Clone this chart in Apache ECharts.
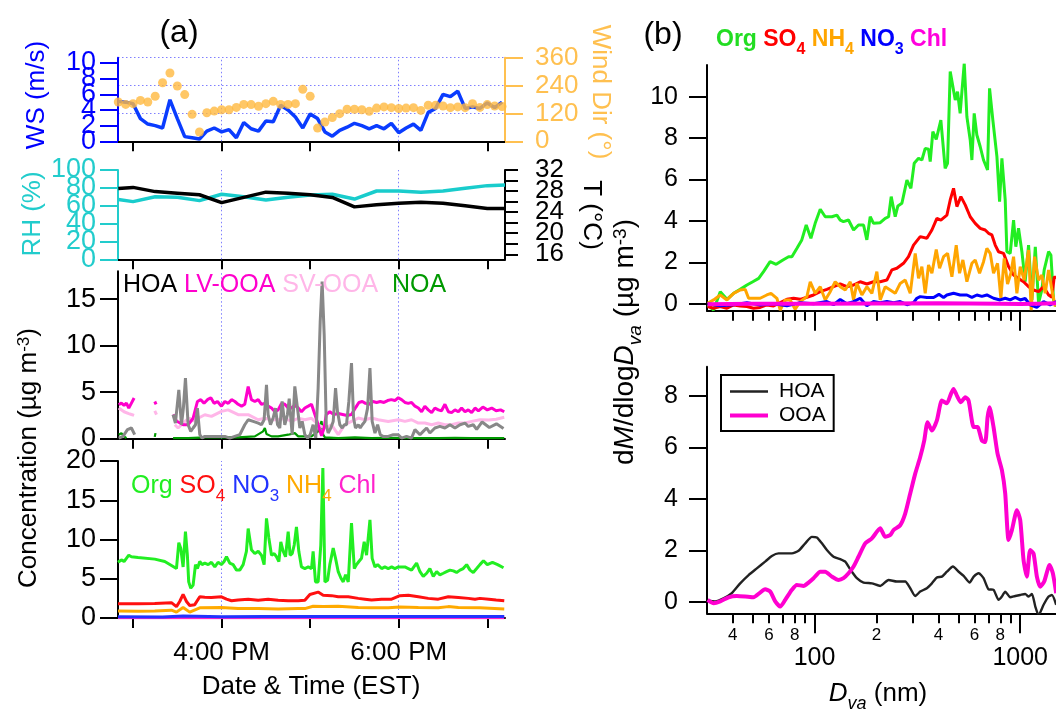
<!DOCTYPE html>
<html>
<head>
<meta charset="utf-8">
<script src="https://cdn.jsdelivr.net/npm/echarts@6/dist/echarts.min.js"></script>
<style>
  html, body { margin: 0; padding: 0; background: #ffffff; }
  #chart { width: 1056px; height: 711px; }
</style>
</head>
<body>
<div id="chart"></div>
<script>
// ---------- time axis: minutes after 3:00 PM (EST) ----------
const timeTicks = [0, 60, 120, 180, 240];
const timeLabelTicks = [60, 180];
const timeLabels = ['4:00 PM', '6:00 PM'];

// ---------- meteorology, 5-min ----------
const metTime = [-10, -5, 0, 5, 10, 15, 20, 25, 30, 35, 40, 45, 50, 55, 60, 65, 70, 75, 80, 85,
  90, 95, 100, 105, 110, 115, 120, 125, 130, 135, 140, 145, 150, 155, 160, 165, 170, 175, 180, 185,
  190, 195, 200, 205, 210, 215, 220, 225, 230, 235, 240, 245, 250];
const windSpeed = [5.1, 5.0, 4.8, 2.9, 2.2, 2.0, 1.7, 5.3, 2.9, 0.6, 0.45, 0.3, 1.3, 1.7, 1.2, 1.5, 0.45, 2.4, 1.6, 1.3,
  2.6, 2.5, 4.6, 4.0, 3.1, 1.7, 3.5, 2.9, 1.2, 0.65, 1.4, 1.8, 2.3, 2.0, 1.6, 2.0, 1.6, 2.3, 1.1, 1.7,
  2.2, 1.4, 3.7, 4.2, 6.0, 5.7, 6.4, 4.2, 4.4, 4.2, 4.9, 4.3, 5.0];
const windDir = [169, 159, 162, 176, 169, 194, 252, 294, 238, 201, 116, 40, 123, 130, 136, 136, 146, 159, 158, 151,
  162, 172, 159, 159, 162, 224, 194, 57, 83, 102, 119, 138, 138, 136, 129, 143, 148, 145, 141, 143,
  145, 133, 155, 155, 152, 145, 148, 145, 162, 146, 158, 152, 150];
const wsTicks = [0, 2, 4, 6, 8, 10];
const wsLabelsA = [0, 4, 8];
const wsLabelsB = [2, 6, 10];
const dirTicks = [0, 120, 240, 360];

// ---------- RH and temperature, 15-min ----------
const rhTime = [-10, 0, 15, 30, 45, 60, 75, 90, 105, 120, 135, 150, 165, 180, 195, 210, 225, 240, 252];
const relHum = [67, 64.6, 70, 69.4, 65.7, 72.8, 70, 66.4, 69.4, 72, 72.8, 67.5, 76.5, 76.5, 75, 76.5, 79.5, 82.5, 83.2];
const airTemp = [28.5, 28.7, 27.9, 27.6, 27.3, 25.8, 26.8, 27.8, 27.6, 27.3, 26.8, 25.0, 25.4, 25.7, 25.9, 25.7, 25.2, 24.7, 24.7];
const rhTicks = [0, 20, 40, 60, 80, 100];
const rhLabelsA = [0, 40, 80];
const rhLabelsB = [20, 60, 100];
const tempTicks = [16, 18, 20, 22, 24, 26, 28, 30, 32];
const tempLabelsA = [16, 24, 32];
const tempLabelsB = [20, 28];

// ---------- PMF factors (µg m-3) ----------
const hoaTime = [-9.7, -6.8, -3.8, -1.1, 1.1, 8, 27.1, 28.7, 31.0, 32.8,
  34.1, 35.5, 37.3, 39.1, 40.7, 42.3, 43.6, 45.2, 46.8, 48.6,
  53.1, 58.8, 62.2, 65.5, 68.9, 72.3, 75.7, 78.0, 81.4, 84.8,
  87.0, 88.8, 90.4, 91.5, 93.1, 94.9, 96.5, 97.9, 99.4, 101.0,
  102.8, 104.6, 105.8, 107.8, 109.6, 111.4, 113.0, 114.6, 116.4, 118.2,
  120.0, 122.0, 123.8, 125.4, 126.8, 128.1, 129.5, 130.9, 132.2, 134.0,
  135.6, 137.2, 138.5, 140.1, 141.7, 143.1, 144.6, 146.2, 148.0, 149.4,
  150.7, 152.6, 153.9, 155.3, 157.1, 158.9, 160.5, 162.0, 163.9, 165.7,
  167.5, 169.3, 172.9, 176.3, 179.7, 181.9, 185.3, 188.7, 191.0, 194.4,
  196.6, 198.9, 201.1, 204.5, 207.9, 211.3, 214.7, 218.1, 221.5, 224.9,
  227.1, 230.5, 232.8, 236.5, 241.4, 246.2, 251.0];
const hoaConc = [0.07, 0.25, 0.97, 1.15, 0.43, null, 2.58, 1.68, 5.26, 1.5,
  3.29, 6.52, 1.5, 0.79, 1.15, 1.5, 3.29, 0.43, 0.07, 0.25,
  0.25, 0.25, 0.25, 0.07, 0.25, 0.43, 1.5, 2.04, 1.86, 1.68,
  1.5, 2.04, 5.8, 2.58, 1.5, 2.22, 3.29, 1.5, 1.15, 4.01,
  1.5, 2.6, 4.3, 0.43, 5.62, 3.29, 1.15, 1.86, 0.43, 0.07,
  0.43, 1.5, 0.07, 5.44, 12.6, 16.9, 11.17, 1.5, 0.61, 1.15,
  1.86, 5.44, 2.94, 1.5, 1.15, 1.5, 1.5, 4.01, 8.13, 2.22,
  1.15, 1.5, 1.15, 1.5, 1.86, 3.29, 7.59, 1.86, 0.61, 1.5,
  0.43, 0.25, 0.25, 0.43, 0.43, 0.07, 0.25, 0.07, 0.97, 0.43,
  0.79, 1.15, 0.61, 1.15, 1.32, 1.15, 1.5, 1.15, 1.5, 1.68,
  1.32, 1.5, 1.0, 1.8, 1.2, 1.6, 1.1];
const lvTime = [-9.7, -7.9, -6.1, -4.5, -2.9, -1.1, 0.7, 5, 14.7, 15.6,
  20, 27.1, 29.4, 33.9, 37.3, 40.7, 43.6, 45.9, 48.1, 50.4,
  52.7, 54.9, 57.2, 59.9, 62.2, 64.5, 66.7, 69.0, 71.2, 73.5,
  75.7, 78.0, 80.2, 82.5, 84.8, 87.0, 89.3, 91.5, 93.8, 96.1,
  98.3, 100.6, 102.8, 105.1, 107.4, 109.6, 111.9, 114.1, 116.4, 118.7,
  120.9, 123.2, 125.4, 127.7, 129.5, 130.9, 133.3, 136.0, 139.0, 142.0,
  145.0, 148.0, 151.0, 153.0, 155.3, 157.5, 160.0, 162.5, 165.0, 167.5,
  170.0, 172.5, 175.0, 177.4, 179.7, 181.9, 184.2, 186.5, 188.7, 191.0,
  193.3, 195.5, 197.7, 200.0, 202.3, 204.5, 206.8, 209.0, 211.3, 213.6,
  215.8, 218.1, 220.4, 222.6, 224.9, 227.1, 229.4, 231.7, 234.0, 237.0,
  240.0, 243.0, 246.0, 249.0, 251.5];
const lvConc = [3.65, 3.83, 3.58, 3.83, 3.29, 3.83, 4.37, null, 4.0, 3.7,
  null, 2.6, 1.9, 1.5, 1.5, 2.2, 4.0, 4.2, 3.8, 4.2,
  4.4, 3.8, 4.0, 3.5, 4.0, 3.8, 4.2, 4.0, 3.7, 3.5,
  3.7, 5.6, 4.2, 4.0, 4.2, 3.7, 3.8, 3.5, 3.3, 2.9,
  3.1, 3.8, 3.7, 3.3, 3.3, 3.6, 3.3, 2.9, 3.3, 3.5,
  3.7, 2.6, 1.5, 0.3, 1.2, 2.6, 2.9, 2.6, 2.7, 2.6,
  2.5, 2.6, 3.4, 3.9, 4.0, 3.8, 3.7, 4.0, 3.9, 4.0,
  3.9, 4.1, 4.2, 4.1, 4.4, 4.2, 3.9, 3.8, 3.9, 3.5,
  3.3, 2.9, 3.5, 3.1, 2.8, 3.3, 3.1, 3.0, 3.7, 2.9,
  2.8, 3.1, 2.9, 3.3, 2.9, 3.1, 2.8, 3.3, 3.0, 3.4,
  3.1, 3.3, 3.0, 3.1, 2.9];
const svTime = [-9.7, -6.1, -2.9, -1.1, 0.7, 5, 14.7, 15.9, 20, 28.3,
  30.5, 32.8, 36.2, 38.4, 40.7, 44.1, 48.6, 53.1, 59.9, 64.4,
  71.2, 78.0, 84.8, 89.3, 93.8, 98.3, 102.8, 107.4, 111.9, 116.4,
  120.9, 125.4, 129.9, 134.5, 139.0, 143.5, 148.0, 152.6, 157.1, 161.6,
  166.1, 172.9, 179.7, 184.2, 188.7, 193.3, 197.7, 202.3, 206.8, 211.3,
  215.8, 220.4, 224.9, 229.4, 235.0, 241.0, 246.0, 251.5];
const svConc = [3.3, 2.9, 2.7, 2.6, 2.5, null, 3.0, 2.6, null, 1.5,
  1.15, 1.5, 2.0, 2.2, 1.9, 2.2, 2.58, 2.4, 2.94, 3.1,
  2.58, 2.58, 2.04, 2.2, 2.04, 2.04, 2.2, 1.86, 2.2, 2.04,
  2.2, 1.5, 1.15, 1.5, 0.43, 1.5, 1.86, 2.22, 2.04, 2.22,
  2.04, 1.86, 2.04, 1.86, 2.04, 1.68, 1.68, 1.5, 1.68, 1.5,
  1.5, 1.68, 1.68, 1.86, 2.04, 2.0, 2.1, 2.3];
const noaTime = [-9.7, -7.9, -6.1, -4.5, 5, 14.7, 15.2, 20, 27.1, 37.3,
  48.6, 59.9, 71.2, 82.5, 88.1, 89.3, 90.4, 93.8, 98.3, 105.1,
  109.6, 111.9, 120.9, 125.4, 127.7, 128.8, 130.0, 139.0, 150.3, 161.6,
  172.9, 184.2, 195.5, 206.8, 218.1, 229.4, 240.0, 251.5];
const noaConc = [0.43, 0.6, 0.25, 0.07, null, 0.2, 0.6, null, 0.07, 0.07,
  0.15, 0.15, 0.15, 0.25, 0.79, 1.15, 0.5, 0.25, 0.25, 0.43,
  0.6, 0.25, 0.25, 0.79, 1.9, 0.43, 0.15, 0.07, 0.15, 0.07,
  0.1, 0.07, 0.07, 0.07, 0.1, 0.07, 0.07, 0.07];
const pmfTicks = [0, 5, 10, 15];

// ---------- bulk species (µg m-3) ----------
const orgTime = [-10.2, -7.9, -6.1, -4.5, -2.9, -1.1, 3.4, 14.7, 21.5, 29.4,
  31.0, 32.3, 33.9, 35.5, 36.8, 37.7, 39.1, 40.7, 42.3, 43.6,
  45.2, 46.8, 48.6, 50.9, 53.1, 55.4, 57.6, 59.9, 61.7, 63.3,
  65.5, 67.8, 70.1, 72.3, 74.6, 76.8, 78.0, 80.2, 82.5, 84.8,
  87.0, 88.8, 90.4, 92.0, 93.8, 95.6, 97.2, 98.8, 100.1, 101.7,
  103.3, 105.1, 106.4, 107.8, 109.2, 110.7, 112.3, 114.1, 116.4, 118.7,
  120.9, 122.0, 123.6, 125.4, 127.2, 128.6, 130.0, 131.8, 133.3, 135.6,
  137.2, 139.0, 140.8, 142.4, 144.0, 145.8, 148.0, 149.9, 151.4, 153.0,
  154.8, 156.6, 158.2, 160.5, 162.0, 163.9, 165.7, 168.4, 170.6, 172.9,
  175.2, 177.4, 179.7, 184.2, 186.5, 188.7, 192.1, 194.4, 196.6, 198.9,
  201.1, 203.4, 205.7, 207.9, 210.2, 212.4, 214.7, 217.0, 219.2, 221.5,
  223.7, 226.0, 228.3, 230.5, 232.8, 235.0, 237.4, 240.0, 243.5, 247.0,
  251.0];
const orgConc = [7.1, 7.4, 7.2, 7.6, 8.0, 7.8, 7.7, 7.5, 7.2, 6.3,
  9.6, 8.9, 6.5, 11.0, 8.0, 4.6, 3.8, 4.2, 6.8, 6.3,
  7.2, 6.8, 7.0, 6.8, 7.1, 6.5, 7.1, 6.8, 7.2, 7.8,
  7.0, 6.8, 6.1, 6.1, 6.8, 8.5, 11.4, 8.7, 8.2, 8.5,
  8.0, 6.8, 12.7, 10.2, 8.0, 8.2, 7.8, 7.2, 9.7, 8.5,
  7.8, 11.0, 8.0, 8.2, 9.3, 11.6, 8.5, 6.5, 6.3, 6.5,
  6.3, 8.5, 4.6, 4.6, 9.3, 19.1, 4.6, 4.8, 6.8, 8.9,
  7.6, 5.9, 5.1, 4.6, 5.5, 4.6, 12.1, 6.3, 6.8, 7.2,
  7.6, 9.7, 8.0, 12.5, 7.6, 6.5, 6.8, 6.3, 6.5, 6.3,
  6.5, 6.3, 6.5, 6.5, 6.3, 6.1, 7.0, 5.9, 5.3, 5.7,
  6.3, 5.3, 5.9, 5.5, 5.7, 5.9, 6.1, 6.0, 5.8, 6.1,
  6.3, 6.8, 6.1, 5.8, 6.3, 6.8, 7.3, 6.8, 7.1, 6.8,
  6.4];
const so4Time = [-10.2, 3.4, 14.7, 26.0, 29.4, 31.6, 33.9, 36.2, 38.4, 41.8,
  45.2, 48.6, 53.1, 59.9, 63.3, 66.7, 71.2, 78.0, 84.8, 91.5,
  98.3, 105.1, 111.9, 116.4, 119.8, 125.4, 128.8, 134.5, 139.0, 145.8,
  152.6, 157.1, 161.6, 168.4, 175.2, 180.8, 186.5, 193.3, 200.0, 206.8,
  213.6, 220.4, 227.2, 231.7, 235.0, 241.0, 246.0, 251.5];
const so4Conc = [1.8, 1.8, 1.85, 1.95, 1.45, 2.1, 3.0, 2.1, 1.6, 1.7,
  2.7, 2.65, 2.6, 2.7, 2.4, 2.2, 2.3, 2.4, 2.25, 2.4,
  2.25, 2.2, 2.2, 2.25, 3.0, 3.3, 2.9, 2.85, 2.7, 2.7,
  2.5, 2.4, 2.3, 2.4, 2.4, 2.85, 2.9, 2.7, 2.5, 2.4,
  2.7, 2.6, 2.5, 2.4, 2.5, 2.4, 2.3, 2.2];
const nh4Time = [-10.2, 3.4, 14.7, 26.0, 29.4, 33.9, 38.4, 45.2, 59.9, 71.2,
  84.8, 98.3, 111.9, 116.4, 122.0, 128.8, 139.0, 152.6, 161.6, 172.9,
  180.8, 193.3, 206.8, 213.6, 220.4, 235.0, 251.5];
const nh4Conc = [0.9, 0.85, 0.9, 1.0, 0.75, 1.35, 0.75, 1.3, 1.35, 1.2,
  1.2, 1.15, 1.2, 1.2, 1.5, 1.45, 1.5, 1.35, 1.3, 1.3,
  1.4, 1.35, 1.3, 1.45, 1.35, 1.3, 1.15];
const no3Time = [-10.2, 20, 33.9, 60, 90, 120, 150, 180, 210, 251.5];
const no3Conc = [0.15, 0.14, 0.25, 0.17, 0.18, 0.2, 0.19, 0.2, 0.18, 0.18];
const chlTime = [-10.2, 60, 120, 180, 251.5];
const chlConc = [0.03, 0.04, 0.04, 0.03, 0.03];
const speciesTicks = [0, 5, 10, 15, 20];

// ---------- size distributions, dM/dlogDva (µg m-3) vs Dva (nm) ----------
const orgDva = [30.2, 32.3, 34.8, 37.5, 40.4, 43.5, 46.9, 50.1, 53.5, 56.5,
  60.8, 65.1, 70.2, 74.8, 77.6, 82.0, 86.7, 91.1, 96.0, 100.7,
  106.6, 112.7, 121.4, 128.4, 133.3, 138.3, 146.3, 154.8, 163.6, 173.1,
  179.6, 186.5, 193.6, 208.6, 220.6, 229.1, 235.9, 246.7, 254.2, 265.9,
  281.3, 294.0, 305.2, 320.4, 332.5, 345.3, 358.3, 365.1, 376.0, 390.6,
  411.3, 431.5, 443.2, 456.7, 483.2, 495.7, 510.4, 534.3, 550.5, 571.3,
  582.1, 597.4, 615.4, 639.1, 663.1, 693.7, 709.5, 736.1, 770.4, 793.7,
  814.6, 845.4, 861.5, 893.9, 928.3, 952.1, 981.3, 1019, 1057, 1098,
  1140, 1184, 1228, 1274, 1308, 1374, 1410, 1452, 1496];
const orgDist = [-0.06, -0.31, 0.58, 0.21, 0.5, 0.69, 0.9, 1.06, 1.22, 1.55,
  2.03, 1.9, 2.11, 2.27, 2.27, 2.67, 3.08, 3.8, 3.16, 3.88,
  4.56, 4.2, 4.2, 4.28, 4.04, 3.96, 4.04, 3.56, 3.8, 3.8,
  3.08, 4.2, 3.88, 3.91, 4.12, 4.2, 5.17, 4.2, 4.72, 4.85,
  5.97, 5.57, 6.78, 7.02, 6.94, 7.5, 7.46, 6.86, 8.31, 7.94,
  8.87, 6.54, 6.78, 11.21, 9.84, 10.24, 9.19, 11.61, 9.03, 7.91,
  6.94, 9.19, 8.15, 7.58, 6.94, 6.46, 10.4, 8.87, 7.1, 4.93,
  7.02, 5.01, 2.51, 2.43, 4.04, 2.75, 3.64, 2.51, 1.06, 2.83,
  0.18, 2.75, 0.02, 0.66, 1.63, 2.51, 2.35, 0.18, -0.14];
const so4Dva = [30.2, 32.3, 34.8, 37.5, 40.4, 43.5, 46.9, 50.5, 54.4, 58.6,
  63.2, 68.1, 73.4, 79.1, 85.2, 91.8, 98.9, 106.6, 114.8, 123.7,
  133.3, 143.6, 154.8, 166.7, 179.6, 193.6, 208.6, 224.7, 237.7, 251.3,
  270.8, 286.4, 302.9, 326.4, 351.7, 372.0, 393.4, 411.3, 440.0, 456.7,
  474.1, 492.1, 514.6, 540.2, 571.3, 604.2, 639.1, 675.6, 701.5, 728.3,
  755.8, 784.6, 829.8, 877.6, 928.3, 981.3, 1038, 1098, 1161, 1228,
  1299, 1374, 1426, 1463, 1496];
const so4Dist = [-0.14, -0.22, -0.14, -0.22, -0.06, -0.11, -0.14, -0.22, -0.18, -0.06,
  -0.11, 0.05, 0.21, 0.26, 0.21, 0.31, 0.42, 0.58, 0.69, 0.82,
  0.95, 0.82, 0.9, 1.06, 0.95, 1.06, 1.06, 1.14, 1.63, 1.71,
  1.95, 2.27, 2.83, 3.24, 3.16, 3.56, 4.12, 4.04, 4.28, 5.01,
  5.57, 4.69, 5.17, 4.77, 4.2, 3.88, 3.64, 3.56, 3.4, 3.32,
  2.83, 2.51, 2.43, 1.79, 1.38, 1.22, 1.06, 0.82, 0.66, 0.58,
  0.82, 0.42, 0.31, 1.3, 1.22];
const nh4Dva = [30.2, 32.3, 34.8, 37.5, 40.4, 43.5, 46.0, 47.8, 50.5, 54.4,
  58.6, 61.4, 65.6, 68.1, 72.0, 76.1, 80.5, 85.2, 91.8, 95.3,
  100.7, 106.6, 112.7, 119.2, 126.0, 133.3, 141.0, 149.1, 154.8, 160.6,
  169.9, 179.6, 190.0, 200.9, 208.6, 220.6, 233.3, 246.7, 260.9, 275.9,
  291.9, 308.7, 320.4, 332.5, 345.2, 358.3, 372.0, 390.6, 405.4, 424.0,
  443.4, 465.4, 488.5, 507.0, 526.3, 550.5, 582.1, 604.2, 634.3, 663.3,
  688.5, 714.6, 741.9, 775.9, 805.4, 836.0, 867.8, 900.8, 928.2, 963.4,
  1000, 1046, 1098, 1131, 1174, 1228, 1274, 1323, 1374, 1426, 1480];
const nh4Dist = [0.02, 0.18, 0.42, 0.18, 0.5, 0.66, 0.69, 0.26, 0.26, 0.26,
  0.42, 0.5, 0.26, -0.31, 0.18, 0.18, -0.27, 0.1, 0.34, 1.06,
  0.5, 0.82, 0.18, 0.58, 1.06, 0.82, 0.66, 1.06, 0.18, 0.98,
  0.42, 0.82, 0.5, 1.55, 0.18, 0.82, 0.66, 0.5, 0.98, 1.14,
  0.5, 2.43, 1.22, 1.79, 0.5, 1.87, 1.47, 2.62, 1.71, 2.27,
  2.43, 1.3, 2.83, 1.47, 2.11, 1.06, 1.95, 2.11, 1.47, 2.03,
  2.67, 2.43, 1.47, 1.95, 0.26, 2.19, 0.95, 1.47, 2.27, 0.5,
  1.79, 1.14, 2.59, -0.31, 2.27, 1.14, 1.38, 0.5, 1.63, 0.66, -0.14];
const no3Dva = [30.2, 34.8, 40.4, 46.9, 54.4, 63.2, 73.4, 85.2, 98.9, 114.8,
  123.7, 133.3, 143.6, 154.8, 166.7, 179.6, 193.6, 208.6, 224.7, 242.3,
  260.9, 281.3, 302.9, 314.4, 326.4, 351.7, 379.2, 402.4, 424.0, 440.0,
  474.1, 510.4, 550.5, 582.1, 615.4, 651.0, 688.4, 741.9, 798.5, 845.4,
  893.9, 946.0, 1000, 1057, 1118, 1204, 1299, 1398, 1496];
const no3Dist = [0.0, -0.1, -0.05, 0.05, -0.06, 0.0, -0.1, 0.05, 0.0, 0.1,
  -0.05, 0.2, 0.0, 0.1, 0.26, -0.1, 0.1, 0.05, 0.1, 0.05,
  0.1, -0.05, 0.05, 0.26, 0.34, 0.3, 0.3, 0.45, 0.3, 0.42,
  0.5, 0.42, 0.42, 0.3, 0.42, 0.35, 0.42, 0.26, 0.18, 0.26,
  0.18, 0.3, 0.18, 0.25, -0.06, -0.18, 0.1, -0.06, 0.1];
const chlDva = [30.2, 50, 100, 200, 400, 800, 1000, 1200, 1496];
const chlDist = [-0.03, 0.0, 0.0, 0.01, 0.02, 0.0, -0.02, 0.0, 0.02];

const hoaDva = [30.2, 32.9, 36.1, 39.6, 43.5, 47.8, 52.4, 57.5, 62.0, 66.8,
  72.0, 77.6, 83.6, 90.1, 97.1, 102.6, 108.6, 114.8, 123.7, 133.3,
  141.0, 149.1, 160.6, 173.1, 190.0, 208.6, 229.1, 251.3, 275.9, 291.9,
  308.7, 326.4, 351.7, 372.0, 393.4, 416.1, 440.0, 470.8, 501.9, 530.8,
  567.8, 594.1, 628.6, 663.3, 701.5, 741.9, 784.6, 814.7, 845.4, 893.9,
  946.0, 1000, 1057, 1098, 1140, 1184, 1228, 1299, 1374, 1426, 1496];
const hoaDist = [0.06, 0.03, 0.15, 0.35, 0.73, 1.05, 1.31, 1.57, 1.79, 1.89,
  1.89, 1.89, 1.99, 2.28, 2.53, 2.51, 2.28, 2.02, 1.76, 1.67,
  1.57, 1.27, 0.93, 0.76, 0.73, 0.63, 0.86, 0.8, 0.8, 0.54,
  0.24, 0.41, 0.54, 0.73, 0.96, 0.99, 1.18, 1.38, 1.18, 1.02,
  0.76, 0.99, 1.12, 0.93, 0.5, 0.48, 0.09, 0.22, 0.41, 0.19,
  0.24, 0.28, 0.32, 0.22, 0.32, -0.17, -0.5, -0.1, 0.22, 0.28, -0.1];
const ooaDva = [30.2, 32.3, 34.8, 38.2, 41.9, 46.0, 50.5, 54.0, 57.5, 60.9,
  64.4, 68.1, 72.0, 77.6, 82.0, 88.4, 93.5, 98.9, 106.6, 112.7,
  121.4, 130.8, 138.3, 146.3, 154.8, 163.6, 176.4, 190.0, 208.6, 220.6,
  233.3, 242.1, 260.9, 275.9, 291.9, 308.7, 326.4, 341.4, 354.4, 372.0,
  393.4, 416.1, 440.0, 460.2, 474.1, 492.1, 514.6, 540.2, 560.9, 594.1,
  620.1, 651.0, 675.6, 693.9, 709.5, 741.9, 775.9, 814.7, 845.4, 877.6,
  911.0, 963.4, 1000, 1038, 1077, 1118, 1161, 1205, 1251, 1308, 1389, 1441, 1496];
const ooaDist = [0.09, -0.04, 0.03, 0.19, 0.24, 0.22, 0.19, 0.35, 0.5, 0.41,
  0.03, -0.17, 0.09, 0.48, 0.67, 0.63, 0.76, 0.93, 1.18, 1.18,
  0.99, 0.86, 0.93, 1.12, 1.38, 1.76, 2.28, 2.47, 2.86, 2.53,
  2.6, 2.79, 2.98, 3.43, 4.21, 4.98, 5.62, 6.26, 6.97, 6.65,
  7.04, 7.81, 7.7, 8.06, 8.26, 8.0, 7.74, 7.94, 7.81, 6.78,
  6.78, 6.26, 6.2, 7.16, 7.55, 6.78, 5.75, 5.11, 4.21, 2.41,
  2.79, 3.56, 3.18, 1.63, 0.99, 2.02, 1.89, 0.99, 0.6, 0.8, 1.44, 1.12, 0.35];

const dvaMinorTicks = [40, 50, 60, 70, 80, 90, 200, 300, 400, 500, 600, 700, 800, 900];
const dvaMajorTicks = [100, 1000];
const dvaMinorLabelTicks = [40, 60, 80, 200, 400, 600, 800];
const dvaMinorLabels = ['4', '6', '8', '2', '4', '6', '8'];
const distTopTicks = [0, 2, 4, 6, 8, 10];
const distBottomTicks = [0, 2, 4, 6, 8];

// ---------- helpers ----------
const FONT = '"Liberation Sans", Arial, Helvetica, sans-serif';
const GUIDE = '#7f7fff';
const pairs = (xs, ys) => xs.map((x, i) => [x, ys[i] == null ? '-' : ys[i]]);
const logPairs = (ds, ys) => ds.map((d, i) => [Math.log10(d), ys[i]]);
const lg = arr => arr.map(v => Math.log10(v));
const pick = (keys, texts, v) => {
  for (let i = 0; i < keys.length; i++) if (Math.abs(keys[i] - v) < 1e-6) return texts[i];
  return '';
};

function timeAxis(gridIndex, withLabels) {
  return {
    type: 'value', gridIndex, min: -10.2, max: 252,
    axisLine: { onZero: false, lineStyle: { color: '#000', width: 2 } },
    axisTick: { inside: false, length: 10, customValues: timeTicks, lineStyle: { color: '#000', width: 2 } },
    axisLabel: withLabels ? {
      customValues: timeLabelTicks, hideOverlap: false, margin: 22,
      formatter: v => pick(timeLabelTicks, timeLabels, v),
      color: '#000', fontSize: 26, fontFamily: FONT
    } : { show: false },
    splitLine: { show: false }
  };
}

// A value axis; with labelsOnly it carries extra tick labels over another axis of the same grid,
// so that closely spaced labels can all be printed (they overlap, as intended).
function valAxis(o) {
  return {
    type: 'value', gridIndex: o.grid, position: o.pos || 'left', min: o.min, max: o.max,
    interval: o.interval,
    axisLine: { show: !o.labelsOnly, onZero: false, lineStyle: { color: o.color, width: 2 } },
    axisTick: { show: !o.labelsOnly, inside: false, length: o.tick || 18, customValues: o.ticks,
      lineStyle: { color: o.color, width: 2 } },
    axisLabel: { hideOverlap: false, showMinLabel: true, showMaxLabel: true,
      customValues: o.labels || o.ticks, margin: o.margin || 22, color: o.color,
      fontSize: o.size || 27, fontFamily: FONT },
    splitLine: o.split ? { show: true, lineStyle: { color: GUIDE, type: [1.5, 2.5], width: 1 } } : { show: false }
  };
}

function dvaAxis(gridIndex, major, withLabels) {
  const ticks = major ? dvaMajorTicks : dvaMinorTicks;
  let label = { show: false };
  if (withLabels) {
    label = major ? {
      customValues: lg(dvaMajorTicks), hideOverlap: false, margin: 32,
      formatter: v => String(Math.round(Math.pow(10, v))),
      color: '#000', fontSize: 25, fontFamily: FONT
    } : {
      customValues: lg(dvaMinorLabelTicks), hideOverlap: false, margin: 14,
      formatter: v => pick(lg(dvaMinorLabelTicks), dvaMinorLabels, v),
      color: '#000', fontSize: 17, fontFamily: FONT
    };
  }
  return {
    type: 'value', gridIndex, position: 'bottom', min: Math.log10(30), max: Math.log10(1600),
    axisLine: { show: !major, onZero: false, lineStyle: { color: '#000', width: 2 } },
    axisTick: { inside: false, length: major ? 20 : 10, customValues: lg(ticks), lineStyle: { color: '#000', width: 2 } },
    axisLabel: label,
    splitLine: { show: false }
  };
}

const timeGuides = {
  silent: true, symbol: ['none', 'none'], z: 1, animation: false,
  label: { show: false }, emphasis: { disabled: true },
  lineStyle: { color: GUIDE, type: [1.5, 2.5], width: 1 },
  data: timeLabelTicks.map(t => ({ xAxis: t }))
};

function line(name, xi, yi, data, color, width, extra) {
  return Object.assign({
    name, type: 'line', xAxisIndex: xi, yAxisIndex: yi, data,
    showSymbol: false, symbol: 'none', connectNulls: false, clip: true,
    lineStyle: { color, width }, itemStyle: { color },
    emphasis: { disabled: true }, animation: false, z: 2
  }, extra || {});
}

// ---------- text helpers ----------
function rt(size, color, opt) {
  return Object.assign({ fontSize: size, fontFamily: FONT, fill: color, lineHeight: size + 6, verticalAlign: 'top' }, opt || {});
}
function rsub(size, color, opt) {
  return Object.assign({ fontSize: size, fontFamily: FONT, fill: color, lineHeight: size, padding: [size, 0, 0, 0], verticalAlign: 'bottom' }, opt || {});
}
function rsup(size, color, opt) {
  return Object.assign({ fontSize: size, fontFamily: FONT, fill: color, lineHeight: size, verticalAlign: 'top' }, opt || {});
}
function label(x, y, text, rich, rot, align, size) {
  return {
    type: 'text', x, y, rotation: rot || 0, silent: true, z: 100,
    style: { text, rich, align: align || 'center', verticalAlign: 'middle', fontFamily: FONT, fontSize: size || 26, fill: '#000' }
  };
}

const option = {
  backgroundColor: '#ffffff',
  animation: false,
  grid: [
    { left: 118, top: 57.7, width: 387, height: 83.6, outerBoundsMode: 'none', containLabel: false },
    { left: 118, top: 170, width: 387, height: 89.3, outerBoundsMode: 'none', containLabel: false },
    { left: 118, top: 271.3, width: 387, height: 167.4, outerBoundsMode: 'none', containLabel: false },
    { left: 118, top: 461, width: 387, height: 157, outerBoundsMode: 'none', containLabel: false },
    { left: 707, top: 65, width: 355.2, height: 245.7, outerBoundsMode: 'none', containLabel: false },
    { left: 707, top: 366.7, width: 355.2, height: 246.6, outerBoundsMode: 'none', containLabel: false }
  ],
  xAxis: [
    timeAxis(0, false), timeAxis(1, false), timeAxis(2, false), timeAxis(3, true),
    dvaAxis(4, false, false), dvaAxis(4, true, false),
    dvaAxis(5, false, true), dvaAxis(5, true, true)
  ],
  yAxis: [
    valAxis({ grid: 0, min: 0, max: 10.68, color: '#0000ff', ticks: wsTicks, labels: wsLabelsA }),          // 0
    valAxis({ grid: 0, min: 0, max: 10.68, color: '#0000ff', labels: wsLabelsB, labelsOnly: true }),        // 1
    valAxis({ grid: 0, pos: 'right', min: 0, max: 360, interval: 120, color: '#ffc050', margin: 30, size: 26,
      ticks: dirTicks, split: true }),                                                                        // 2
    valAxis({ grid: 1, min: 0, max: 100, color: '#22cccc', ticks: rhTicks, labels: rhLabelsA }),              // 3
    valAxis({ grid: 1, min: 0, max: 100, color: '#22cccc', labels: rhLabelsB, labelsOnly: true }),            // 4
    valAxis({ grid: 1, pos: 'right', min: 15.05, max: 32, color: '#000', tick: 13, margin: 30, size: 26,
      ticks: tempTicks, labels: tempLabelsA }),                                                               // 5
    valAxis({ grid: 1, pos: 'right', min: 15.05, max: 32, color: '#000', margin: 30, size: 26,
      labels: tempLabelsB, labelsOnly: true }),                                                               // 6
    valAxis({ grid: 2, min: 0, max: 18, color: '#000', ticks: pmfTicks }),                                    // 7
    valAxis({ grid: 3, min: 0, max: 20, color: '#000', ticks: speciesTicks }),                                // 8
    valAxis({ grid: 4, min: -0.34, max: 11.53, color: '#000', margin: 29, size: 25, ticks: distTopTicks }),   // 9
    valAxis({ grid: 5, min: -0.43, max: 9.12, color: '#000', margin: 29, size: 25, ticks: distBottomTicks })  // 10
  ],
  legend: {
    data: [
      { name: 'HOA', icon: 'path://M0,0H38V2.4H0Z' },
      { name: 'OOA', icon: 'path://M0,0H38V4H0Z' }
    ],
    left: 721, top: 375, orient: 'vertical', symbolKeepAspect: true,
    itemWidth: 38, itemHeight: 12, itemGap: 3, selectedMode: false,
    padding: [6, 8, 5, 9], borderColor: '#000', borderWidth: 2, backgroundColor: '#ffffff',
    textStyle: { fontSize: 21, fontFamily: FONT, color: '#000', padding: [0, 0, 0, 6] }
  },
  series: [
    // wind speed and direction
    line('WS', 0, 0, pairs(metTime, windSpeed), '#0a3cff', 3.5, { markLine: timeGuides }),
    { name: 'Wind Dir', type: 'scatter', xAxisIndex: 0, yAxisIndex: 2, data: pairs(metTime, windDir),
      symbol: 'circle', symbolSize: 9, itemStyle: { color: '#ffb940' }, emphasis: { disabled: true }, animation: false, z: 3 },
    // RH and T
    line('RH', 1, 3, pairs(rhTime, relHum), '#19cccc', 3.5, { markLine: timeGuides }),
    line('T', 1, 5, pairs(rhTime, airTemp), '#000000', 3.5),
    // PMF factors
    line('NOA factor', 2, 7, pairs(noaTime, noaConc), '#009900', 2.2, { markLine: timeGuides }),
    line('SV-OOA factor', 2, 7, pairs(svTime, svConc), '#ffb6e8', 3),
    line('LV-OOA factor', 2, 7, pairs(lvTime, lvConc), '#ff00cc', 3),
    line('HOA factor', 2, 7, pairs(hoaTime, hoaConc), '#888888', 3),
    // bulk species
    line('Org', 3, 8, pairs(orgTime, orgConc), '#22ee22', 3, { markLine: timeGuides }),
    line('SO4', 3, 8, pairs(so4Time, so4Conc), '#ff1010', 3),
    line('NH4', 3, 8, pairs(nh4Time, nh4Conc), '#ffaa00', 3),
    line('Chl', 3, 8, pairs(chlTime, chlConc), '#ff22cc', 3),
    line('NO3', 3, 8, pairs(no3Time, no3Conc), '#2233ff', 3),
    // size distributions, species
    line('Org dist', 4, 9, logPairs(orgDva, orgDist), '#22ee22', 3),
    line('SO4 dist', 4, 9, logPairs(so4Dva, so4Dist), '#ff0000', 3),
    line('NH4 dist', 4, 9, logPairs(nh4Dva, nh4Dist), '#ffa500', 3),
    line('NO3 dist', 4, 9, logPairs(no3Dva, no3Dist), '#0000ff', 3),
    line('Chl dist', 4, 9, logPairs(chlDva, chlDist), '#ff00dd', 4),
    // size distributions, factors
    line('HOA', 6, 10, logPairs(hoaDva, hoaDist), '#222222', 2.4, { smooth: 0.2 }),
    line('OOA', 6, 10, logPairs(ooaDva, ooaDist), '#ff00d0', 4, { smooth: 0.2 })
  ],
  graphic: [
    label(179, 33, '(a)', null, 0, 'center', 32),
    label(663, 35, '(b)', null, 0, 'center', 32),
    label(40, 95, '{t|WS (m/s)}', { t: rt(26, '#0000ff') }, Math.PI / 2),
    label(597, 92, '{t|Wind Dir (°)}', { t: rt(26, '#ffc050') }, -Math.PI / 2),
    label(36, 214, '{t|RH (%)}', { t: rt(26, '#22cccc') }, Math.PI / 2),
    label(588, 215, '{t|T (°C)}', { t: rt(26, '#000') }, -Math.PI / 2),
    label(32, 458, '{t|Concentration (µg m}{s|-3}{t|)}', { t: rt(26, '#000'), s: rsup(17, '#000') }, Math.PI / 2),
    label(311, 690, '{t|Date & Time (EST)}', { t: rt(26, '#000') }),
    label(628, 342, '{t|d}{i|M}{t|/dlog}{i|D}{b|va}{t| (µg m}{s|-3}{t|)}', {
      t: rt(28, '#000'), i: rt(28, '#000', { fontStyle: 'italic' }),
      b: rsub(19, '#000', { fontStyle: 'italic' }), s: rsup(19, '#000')
    }, Math.PI / 2),
    label(878, 697, '{i|D}{b|va}{t| (nm)}', {
      t: rt(26, '#000'), i: rt(26, '#000', { fontStyle: 'italic' }), b: rsub(18, '#000', { fontStyle: 'italic' })
    }),
    label(123, 288, '{k|HOA }{m|LV-OOA }{p|SV-OOA  }{g|NOA}', {
      k: rt(25, '#000'), m: rt(25, '#ff00cc'), p: rt(25, '#ffb6e8'), g: rt(25, '#009900')
    }, 0, 'left'),
    label(131, 489, '{g|Org }{r|SO}{rs|4}{r| }{b|NO}{bs|3}{b| }{o|NH}{os|4}{o| }{c|Chl}', {
      g: rt(25, '#22ee22'), r: rt(25, '#ff1010'), rs: rsub(17, '#ff1010'),
      b: rt(25, '#2233ff'), bs: rsub(17, '#2233ff'), o: rt(25, '#ffaa00'), os: rsub(17, '#ffaa00'),
      c: rt(25, '#ff22cc')
    }, 0, 'left'),
    label(716, 43, '{g|Org }{r|SO}{rs|4}{r| }{o|NH}{os|4}{o| }{b|NO}{bs|3}{b| }{c|Chl}', {
      g: rt(23, '#22dd22', { fontWeight: 'bold' }), r: rt(23, '#ff0000', { fontWeight: 'bold' }),
      rs: rsub(16, '#ff0000', { fontWeight: 'bold' }), o: rt(23, '#ffa500', { fontWeight: 'bold' }),
      os: rsub(16, '#ffa500', { fontWeight: 'bold' }), b: rt(23, '#0000ff', { fontWeight: 'bold' }),
      bs: rsub(16, '#0000ff', { fontWeight: 'bold' }), c: rt(23, '#ff00dd', { fontWeight: 'bold' })
    }, 0, 'left')
  ]
};

const chart = echarts.init(document.getElementById('chart'), null, { renderer: 'canvas' });
chart.setOption(option);
</script>
</body>
</html>
